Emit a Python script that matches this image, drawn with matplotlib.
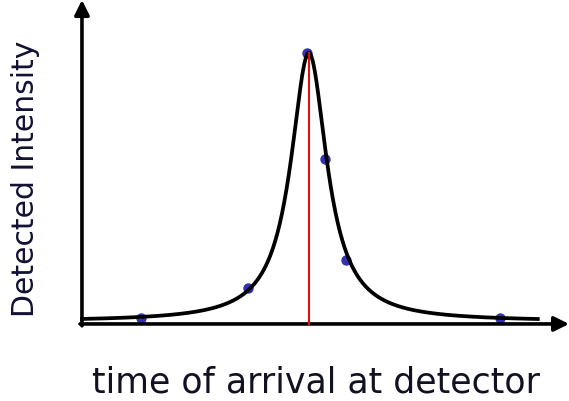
import numpy as np
import matplotlib
matplotlib.use("Agg")
import matplotlib.pyplot as plt

# measured arrival times and detected intensities (arbitrary units)
times = [1.25, 3.44, 4.64, 5.01, 5.44, 8.59]
intensity = [0.019, 0.115, 0.87, 0.53, 0.205, 0.019]

# Lorentzian fit to the measurements
fit_center = 4.68
fit_width = 0.45
fit_amplitude = 0.861
fit_offset = 0.008
fit_range = (0.0, 9.4)

fig = plt.figure(figsize=(5.69, 4.01), dpi=100)
ax = fig.add_axes([0, 0, 1, 1])
ax.set_xlim(-1.636, 10.0)
ax.set_ylim(-0.247, 1.0385)
ax.axis("off")

t = np.linspace(fit_range[0], fit_range[1], 800)
fit = fit_offset + fit_amplitude / (1 + ((t - fit_center) / fit_width) ** 2)
ax.plot(t, fit, color="black", lw=2.7, zorder=3, solid_capstyle="butt")

# peak position marker
peak = fit_offset + fit_amplitude
ax.plot([fit_center, fit_center], [0, peak], color="#e01010", lw=1.5, zorder=4)

ax.plot(times, intensity, "o", color="#3333b0", ms=7.5, mec="none", zorder=2)

# axes drawn as arrows
arrow = dict(arrowstyle="-|>", color="black", lw=2.6,
             mutation_scale=22, shrinkA=0, shrinkB=0)
ax.annotate("", xy=(0.04, 1.0385), xytext=(0.04, -0.006), arrowprops=arrow)
ax.annotate("", xy=(10.0, 0.0), xytext=(0.0, 0.0), arrowprops=arrow)

fig.text(0.556, 0.045, "time of arrival at detector", ha="center", va="center",
         fontsize=25, color="#111122", family="DejaVu Sans")
fig.text(0.045, 0.555, "Detected Intensity", ha="center", va="center",
         rotation=90, fontsize=21.5, color="#111133", family="DejaVu Sans")

fig.savefig("out.png", dpi=100)
